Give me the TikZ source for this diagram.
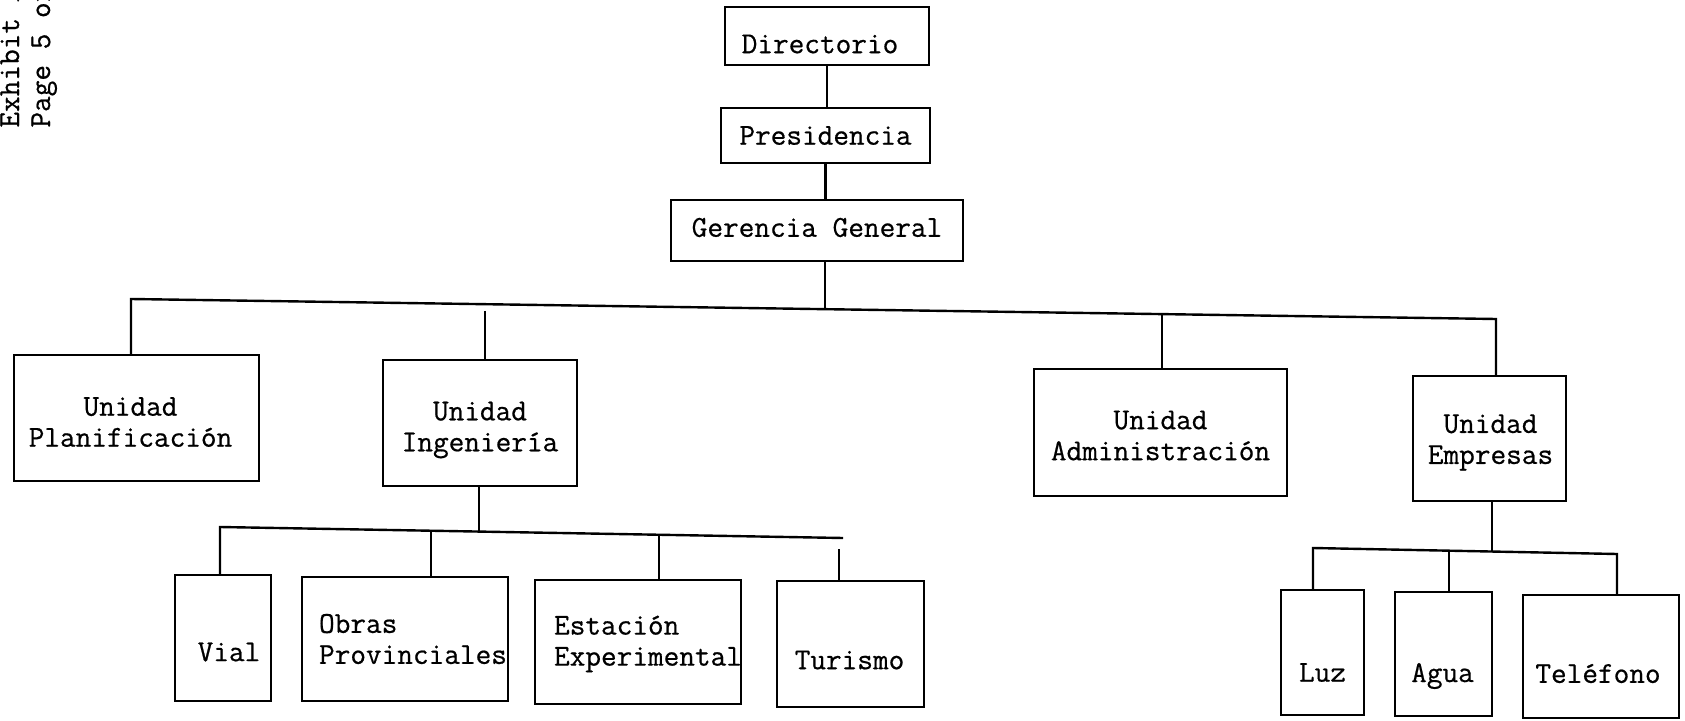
\documentclass[tikz,border=0pt]{standalone}
\usepackage{fontspec}
\usetikzlibrary{fit}

% typewriter face, slightly darkened
\newfontfamily\typewriter{Latin Modern Mono}[FakeBold=0.6]

\tikzset{
  orgbox/.style={draw, line width=1.2pt, inner sep=0pt},
  lbl/.style={font=\typewriter\fontsize{15.2}{15.5}\selectfont, align=center, inner sep=0pt},
  lblleft/.style={lbl, align=left},
  wire/.style={line width=1.2pt},
}

% [label style]{name}{x1}{y1}{x2}{y2}{dx}{dy}{text}
\newcommand\orgunit[9][lbl]{%
  \node[orgbox, fit={(#3,#4) (#5,#6)}] (#2) {};
  \node[#1] (#2-t) at ([shift={(#7,#8)}]#2.center) {#9};
}

\begin{document}
\begin{tikzpicture}[x=0.5pt, y=-0.5pt]
  \useasboundingbox (0,0) rectangle (1685,721);

  % file stamp along the left margin
  \node[lbl, rotate=90, anchor=base west] (stamp1) at (19,128) {Exhibit A};
  \node[lbl, rotate=90, anchor=base west] (stamp2) at (50,128) {Page 5 of};

  % top of the hierarchy
  \orgunit{dir}{725}{7}{929}{65}{-7}{8}{Directorio}
  \orgunit{pres}{721}{108}{930}{163}{0}{0}{Presidencia}
  \orgunit{ger}{671}{200}{963}{261}{0}{-3}{Gerencia General}

  % units
  \orgunit{plan}{14}{355}{259}{481}{-6}{4}{Unidad\\Planificación}
  \orgunit{ing}{383}{360}{577}{486}{0}{7}{Unidad\\Ingeniería}
  \orgunit{adm}{1034}{369}{1287}{496}{0}{3}{Unidad\\Administración}
  \orgunit{emp}{1413}{376}{1566}{501}{1}{4}{Unidad\\Empresas}

  % engineering departments
  \orgunit{vial}{175}{575}{271}{701}{6}{14}{Vial}
  \orgunit[lblleft]{obras}{302}{577}{508}{701}{8}{0}{Obras\\Provinciales}
  \orgunit[lblleft]{est}{535}{580}{741}{704}{10}{2}{Estación\\Experimental}
  \orgunit{tur}{777}{581}{924}{707}{-1}{16}{Turismo}

  % public utilities
  \orgunit{luz}{1281}{590}{1364}{715}{0}{20}{Luz}
  \orgunit{agua}{1395}{592}{1492}{716}{-1}{22}{Agua}
  \orgunit{tel}{1523}{595}{1679}{718}{-3}{17}{Teléfono}

  % vertical chain at the top
  \draw[wire] (dir.south) -- (dir.south |- pres.north);
  \draw[wire] (pres.south) -- (pres.south |- ger.north);

  % main bus
  \coordinate (bP) at (131,299);
  \coordinate (bI) at (485,311);
  \coordinate (bG) at (825,309);
  \coordinate (bA) at (1162,314);
  \coordinate (bE) at (1496,319);
  \draw[wire] (bG |- ger.south) -- (bG);
  \draw[wire] (bP |- plan.north) -- (bP) -- (bE) -- (bE |- emp.north);
  \draw[wire] (bI) -- (bI |- ing.north);
  \draw[wire] (bA) -- (bA |- adm.north);

  % engineering bus
  \coordinate (sV) at (220,527);
  \coordinate (sI) at (479,532);
  \coordinate (sO) at (431,531);
  \coordinate (sS) at (659,535);
  \coordinate (sEnd) at (843,538);
  \coordinate (sT) at (839,549);
  \draw[wire] (sI |- ing.south) -- (sI);
  \draw[wire] (sV |- vial.north) -- (sV) -- (sEnd);
  \draw[wire] (sO) -- (sO |- obras.north);
  \draw[wire] (sS) -- (sS |- est.north);
  \draw[wire] (sT) -- (sT |- tur.north);

  % utilities bus
  \coordinate (uL) at (1313,548);
  \coordinate (uE) at (1492,552);
  \coordinate (uA) at (1449,551);
  \coordinate (uT) at (1617,554);
  \draw[wire] (uE |- emp.south) -- (uE);
  \draw[wire] (uL |- luz.north) -- (uL) -- (uT) -- (uT |- tel.north);
  \draw[wire] (uA) -- (uA |- agua.north);
\end{tikzpicture}
\end{document}
